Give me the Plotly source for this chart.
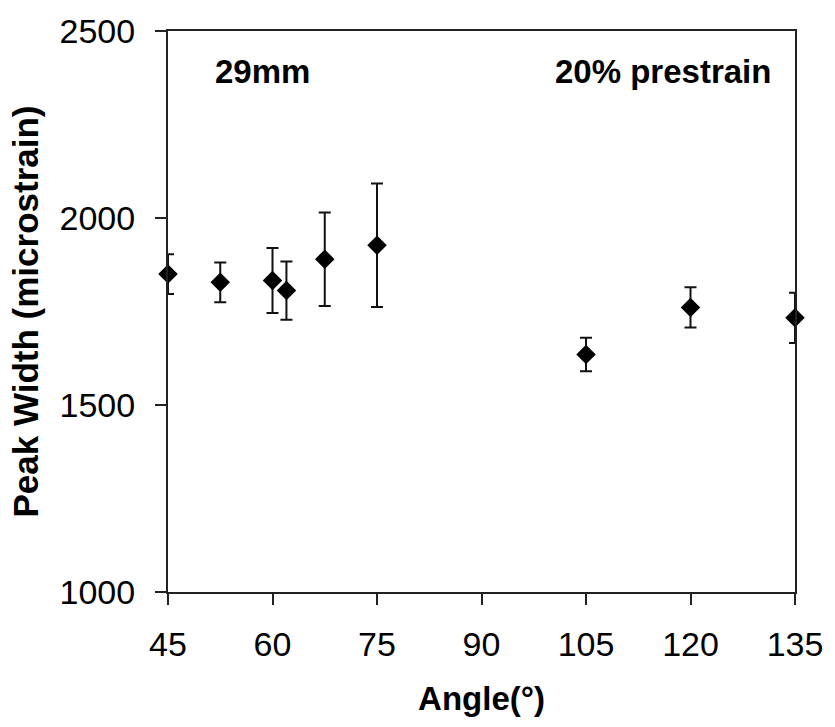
import plotly.graph_objects as go

angles = [45, 52.5, 60, 62, 67.5, 75, 105, 120, 135]
peak_width = [1850, 1828, 1833, 1806, 1890, 1927, 1635, 1761, 1733]
err = [53, 53, 87, 78, 125, 165, 45, 54, 67]

x_ticks = [45, 60, 75, 90, 105, 120, 135]
y_ticks = [1000, 1500, 2000, 2500]

font_family = "Liberation Sans, Arial, sans-serif"
line_col = "#222222"

fig = go.Figure()
fig.add_trace(go.Scatter(
    x=angles, y=peak_width, mode="markers",
    marker=dict(symbol="diamond", size=15, color="black"),
    error_y=dict(type="data", array=err, visible=True, color="#111111", thickness=2, width=6),
    showlegend=False, cliponaxis=False,
))

fig.add_annotation(x=58.6, y=2393, text="<b>29mm</b>", showarrow=False,
                   font=dict(size=33, color="black", family=font_family))
fig.add_annotation(x=116.1, y=2393, text="<b>20% prestrain</b>", showarrow=False,
                   font=dict(size=33, color="black", family=font_family))

fig.update_layout(
    width=835, height=727,
    margin=dict(l=168, r=33, t=25, b=135),
    plot_bgcolor="white", paper_bgcolor="white",
    font=dict(family=font_family, color="black", size=34),
)
fig.update_xaxes(
    range=[45, 135], tickvals=x_ticks, ticks="outside", ticklen=11, tickwidth=2, tickcolor=line_col,
    showline=True, linecolor=line_col, linewidth=2, mirror=True, showgrid=False, zeroline=False,
    tickfont=dict(size=34), ticklabelstandoff=10,
    title=dict(text="<b>Angle(°)</b>", font=dict(size=33), standoff=25),
)
fig.update_yaxes(
    range=[1000, 2500], tickvals=y_ticks, ticks="outside", ticklen=11, tickwidth=2, tickcolor=line_col,
    showline=True, linecolor=line_col, linewidth=2, mirror=True, showgrid=False, zeroline=False,
    tickfont=dict(size=34), ticklabelstandoff=13,
    title=dict(text="<b>Peak Width (microstrain)</b>", font=dict(size=35), standoff=10),
)

fig.write_html("out.html")
